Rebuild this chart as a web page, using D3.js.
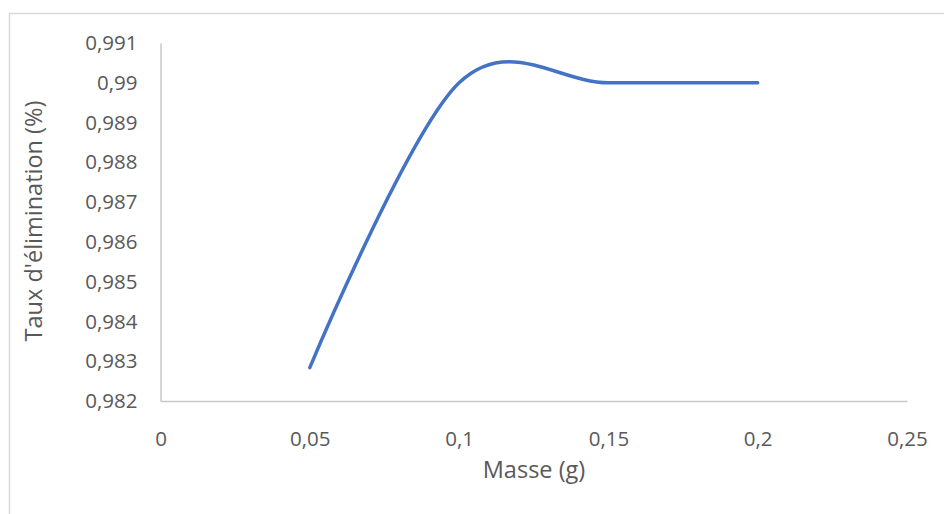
<!DOCTYPE html>
<html>
<head>
<meta charset="utf-8">
<script src="https://cdn.jsdelivr.net/npm/d3@7"></script>
<style>
  body { margin: 0; background: #fff; }
  text { font-family: "Open Sans", sans-serif; fill: #595959; }
</style>
</head>
<body>
<div id="main-container"></div>
<script>
// data
const masses = [0.05, 0.1, 0.15, 0.2];
const rates = [0.98284, 0.99, 0.99, 0.99];
const xTicks = [0, 0.05, 0.1, 0.15, 0.2, 0.25];
const yTicks = [0.982, 0.983, 0.984, 0.985, 0.986, 0.987, 0.988, 0.989, 0.99, 0.991];

const width = 944;
const height = 514;

const svg = d3.select('#main-container').append('svg')
  .attr('width', width).attr('height', height);

// chart frame
svg.append('rect').attr('x', 9.5).attr('y', 13.5)
  .attr('width', 1000).attr('height', 600)
  .attr('fill', 'none').attr('stroke', '#d9d9d9').attr('stroke-width', 1.5);

const xScale = d3.scaleLinear().domain([0, 0.25]).range([160.5, 907]);
const yScale = d3.scaleLinear().domain([0.982, 0.991]).range([401, 43]);

const comma = d => String(+d.toFixed(3)).replace('.', ',');

const xAxis = d3.axisBottom(xScale).tickValues(xTicks).tickSize(0).tickPadding(30).tickFormat(comma);
const yAxis = d3.axisLeft(yScale).tickValues(yTicks).tickSize(0).tickPadding(23).tickFormat(comma);

const gx = svg.append('g').attr('transform', 'translate(0,401)').call(xAxis);
const gy = svg.append('g').attr('transform', 'translate(160.5,0)').call(yAxis);

[gx, gy].forEach(g => {
  g.select('.domain').attr('stroke', '#c8c8c8').attr('stroke-width', 1.5);
  g.selectAll('text').style('font-size', '20.5px').attr('fill', '#595959');
});

svg.append('text').text('Masse (g)').attr('x', 534).attr('y', 478)
  .attr('text-anchor', 'middle').style('font-size', '23.5px');

svg.append('text').text("Taux d'élimination (%)")
  .attr('transform', 'translate(42,221) rotate(-90)')
  .attr('text-anchor', 'middle').style('font-size', '23.5px');

const line = d3.line()
  .x((d, i) => xScale(masses[i]))
  .y(d => yScale(d))
  .curve(d3.curveCatmullRom.alpha(0));

svg.append('path').datum(rates)
  .attr('d', line)
  .attr('fill', 'none')
  .attr('stroke', '#4472c4')
  .attr('stroke-width', 3.5)
  .attr('stroke-linecap', 'round');
</script>
</body>
</html>
